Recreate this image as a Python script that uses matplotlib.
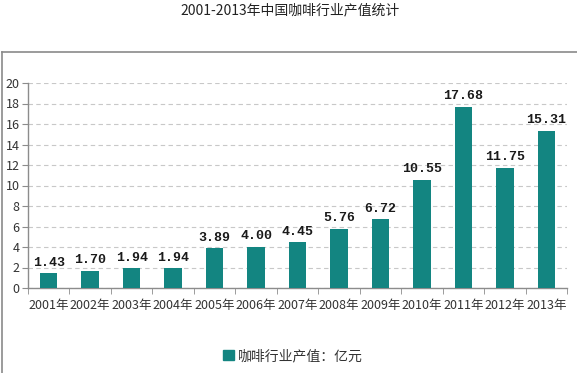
import matplotlib
matplotlib.use("Agg")
import matplotlib.pyplot as plt
from matplotlib.lines import Line2D
from matplotlib.patches import Patch
import numpy as np

plt.rcParams['font.family'] = ['Noto Sans CJK SC', 'DejaVu Sans']

years = ["2001年", "2002年", "2003年", "2004年", "2005年", "2006年", "2007年",
         "2008年", "2009年", "2010年", "2011年", "2012年", "2013年"]
values = [1.43, 1.70, 1.94, 1.94, 3.89, 4.00, 4.45, 5.76, 6.72, 10.55, 17.68, 11.75, 15.31]
yticks = [0, 2, 4, 6, 8, 10, 12, 14, 16, 18, 20]
title = "2001-2013年中国咖啡行业产值统计"
legend_label = "咖啡行业产值：亿元"

bar_color = "#138581"
axis_color = "#8c8c8c"

fig = plt.figure(figsize=(5.77, 3.73), dpi=100)
ax = fig.add_axes([28/577, 1-288/373, (567-28)/577, (288-83)/373])

x = np.arange(len(years))
bars = ax.bar(x, values, width=0.42, color=bar_color, zorder=3)

ax.set_xlim(-0.5, len(years)-0.5)
ax.set_ylim(0, 20)
ax.set_yticks(yticks)
ax.set_yticklabels([str(v) for v in yticks], fontsize=9, color="#333333")
ax.set_xticks(x)
ax.set_xticklabels(years, fontsize=9, color="#333333")
ax.tick_params(axis='x', length=0, pad=8)
ax.set_xticks(np.arange(len(years)+1)-0.5, minor=True)
ax.tick_params(axis='x', which='minor', length=4, color=axis_color, direction='out')
ax.tick_params(axis='y', length=4, color=axis_color, pad=2)

for s in ['top', 'right']:
    ax.spines[s].set_visible(False)
for s in ['left', 'bottom']:
    ax.spines[s].set_color(axis_color)
    ax.spines[s].set_linewidth(1.0)

ax.yaxis.grid(True, linestyle=(0, (4, 3)), color="#c8c8c8", linewidth=0.8, zorder=0)
ax.set_axisbelow(True)

for xi, v in zip(x, values):
    ax.text(xi, v + 0.45, f"{v:.2f}", ha='center', va='bottom',
            fontsize=9.5, fontweight='bold', family=['Liberation Mono', 'DejaVu Sans Mono'],
            color="#1a1a1a", zorder=4)

fig.text(290/577, 1-10/373, title, ha='center', va='center', fontsize=10, color="#222222")

leg = fig.legend(handles=[Patch(facecolor=bar_color, edgecolor=bar_color, label=legend_label)],
                 loc='center', bbox_to_anchor=(293/577, 1-356/373), frameon=False,
                 fontsize=10, handlelength=0.8, handleheight=0.8, handletextpad=0.3)
for t in leg.get_texts():
    t.set_color("#333333")

# outer frame lines
fig.add_artist(Line2D([2/577, 1], [1-52/373, 1-52/373], transform=fig.transFigure,
                      color="#8a8a8a", linewidth=1.2))
fig.add_artist(Line2D([2/577, 2/577], [0, 1-52/373], transform=fig.transFigure,
                      color="#8a8a8a", linewidth=1.2))

fig.savefig("out.png", dpi=100)
